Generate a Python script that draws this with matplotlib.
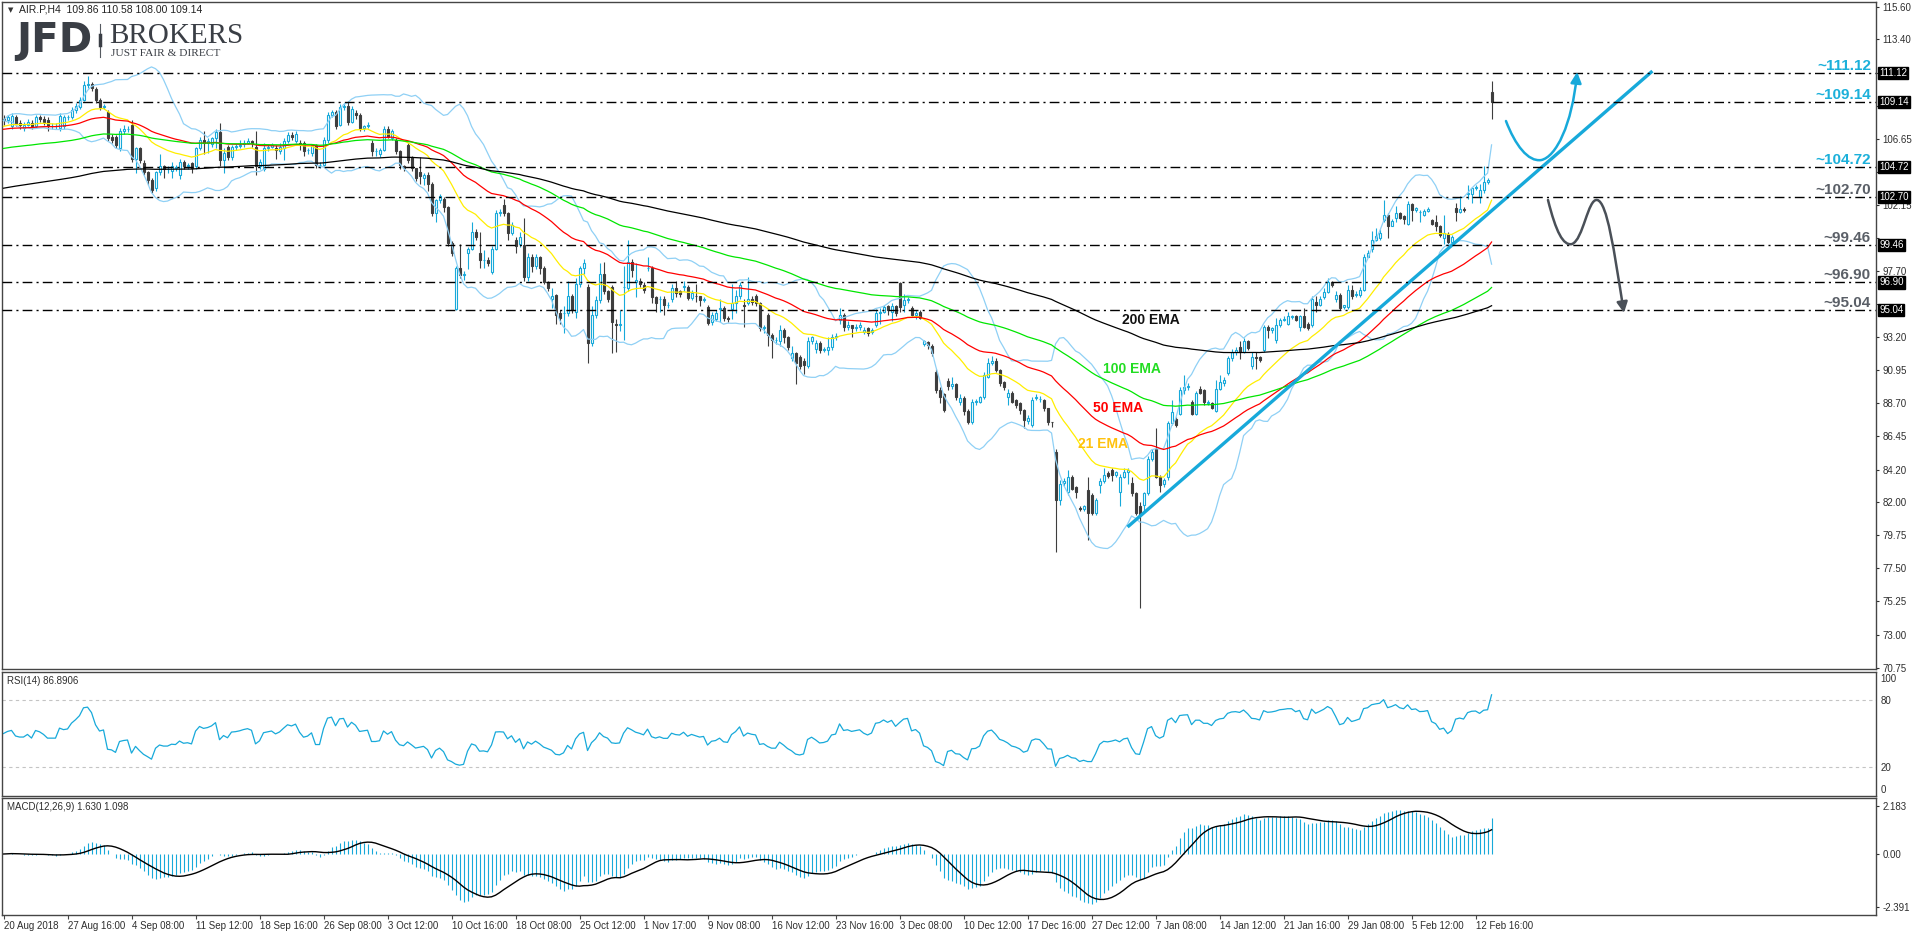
import numpy as np
import pandas as pd
import matplotlib
matplotlib.use("Agg")
import matplotlib.pyplot as plt
import matplotlib.transforms as mtransforms
from matplotlib.path import Path
from matplotlib.patches import FancyArrowPatch
from matplotlib.lines import Line2D

plt.rcParams['font.family'] = ['Liberation Sans', 'DejaVu Sans']

W, H, DPI = 1916, 936, 100

# ---------------- data (AIR.P, H4) ----------------
opens = [
108.0,107.9,107.5,108.1,107.7,107.4,107.6,107.7,107.5,108.1,108.0,107.9,107.5,107.5,107.4,107.5,108.1,108.15,108.6,108.8,
109.3,110.3,110.4,110.0,109.3,108.8,108.5,106.8,106.8,106.0,107.2,107.3,107.6,105.3,106.0,105.0,104.4,103.85,103.3,104.4,
104.8,104.6,104.5,104.7,104.2,105.1,104.8,105.0,104.8,106.0,106.6,106.4,106.3,106.7,107.1,105.2,106.1,105.4,106.1,106.15,
106.3,106.4,106.5,106.1,104.8,104.6,106.0,106.1,106.0,105.8,106.0,106.5,106.9,106.5,106.4,106.4,105.9,105.7,106.2,104.9,
104.9,106.6,108.3,108.5,107.6,108.8,108.9,107.8,108.4,108.3,107.4,107.5,106.4,105.8,105.6,105.9,107.3,106.7,106.6,105.8,
104.8,106.2,105.4,104.65,104.4,104.0,104.2,103.6,101.6,102.5,102.6,102.0,99.55,95.1,97.85,97.4,98.9,99.2,100.35,98.9,
98.4,98.4,97.6,99.2,101.6,102.15,101.6,100.25,99.8,99.5,99.45,97.3,98.65,98.0,98.6,97.85,96.95,95.8,96.05,94.8,
94.8,94.8,95.95,94.9,96.8,97.85,96.6,92.8,94.7,95.7,97.5,96.3,96.6,94.1,94.0,96.6,96.5,98.3,96.9,97.0,
96.75,97.85,97.85,95.9,95.8,95.8,95.4,95.8,96.5,96.3,96.6,96.6,95.85,96.0,95.95,95.7,95.26,94.2,94.45,95.1,
95.15,94.5,95.1,95.5,95.95,95.4,95.5,95.8,96.0,95.5,93.8,94.7,93.35,93.0,92.9,93.7,93.2,91.75,92.1,91.85,
91.6,91.2,92.9,92.4,92.8,92.3,92.3,92.5,93.2,94.35,94.7,93.9,94.0,93.8,93.9,93.55,93.8,93.55,94.0,94.8,
94.9,95.3,94.9,95.3,96.85,95.4,95.7,95.15,94.7,94.9,92.75,92.85,92.6,90.85,89.6,89.3,90.2,89.85,90.0,88.8,
89.05,88.15,87.45,88.8,88.8,89.15,90.5,91.4,91.6,90.95,90.15,89.15,89.4,88.9,88.7,88.25,87.5,87.25,89.05,89.0,
88.9,88.35,87.45,85.4,82.15,83.3,82.7,83.7,83.0,81.6,81.55,82.8,82.45,81.25,83.15,83.4,83.95,84.15,83.8,82.7,
83.7,84.05,83.3,82.6,81.7,81.8,82.6,84.95,85.6,83.7,83.2,83.7,87.35,87.6,88.0,89.6,89.8,88.8,88.0,89.7,
89.6,88.7,88.7,88.15,89.7,90.05,90.75,91.75,92.2,92.55,92.2,92.9,91.2,91.85,91.85,92.3,93.9,93.65,93.0,94.0,
94.35,94.1,94.55,94.6,93.9,94.6,94.1,94.0,95.6,95.4,95.9,96.25,96.95,95.8,96.05,95.25,95.25,96.4,96.05,96.05,
96.4,98.65,99.2,99.8,99.95,101.15,101.5,100.75,101.25,101.6,101.4,100.9,102.25,101.8,101.7,101.5,101.75,101.15,101.0,100.7,
99.9,100.2,99.65,101.95,101.7,101.9,102.9,102.9,103.3,102.7,103.15,103.75,109.86]
highs = [
108.3,108.3,108.4,108.3,107.9,107.8,108.0,107.9,108.3,108.3,108.2,108.1,107.7,107.7,108.4,108.3,108.3,108.8,109.1,109.5,
110.6,110.9,110.5,110.2,109.4,109.0,108.6,107.0,106.9,107.4,107.6,107.5,107.9,106.1,106.1,105.2,104.5,104.0,104.5,105.6,
104.9,104.8,105.1,104.9,105.3,105.2,105.0,105.1,106.1,106.8,107.2,106.7,106.8,107.3,107.7,106.0,106.2,106.2,106.3,106.6,
106.6,106.7,106.6,107.2,105.3,106.4,106.3,106.4,106.2,106.4,106.7,107.1,107.1,107.2,106.6,106.5,106.0,106.3,106.3,105.1,
106.8,108.5,108.6,108.6,109.0,109.1,109.2,108.9,108.6,108.4,107.6,107.8,106.6,106.0,106.0,107.5,107.5,107.3,106.7,105.9,
104.9,106.4,105.5,104.7,105.4,104.3,104.4,103.7,102.6,102.9,102.7,102.1,99.7,98.0,99.5,97.7,99.3,101.0,100.5,100.3,
99.1,98.6,99.4,101.8,101.9,102.6,101.7,101.0,100.0,100.3,101.3,98.9,98.8,98.8,98.7,98.0,97.0,96.5,96.1,95.0,
95.3,97.0,96.1,97.2,98.0,98.5,96.8,95.3,96.0,98.2,98.3,96.4,96.7,94.4,95.0,98.0,99.8,98.5,98.2,97.2,
96.9,98.6,98.0,96.0,96.0,96.0,95.6,96.8,97.0,96.4,97.0,96.7,96.4,96.8,96.0,95.9,95.4,94.9,95.0,95.8,
95.3,94.6,96.8,96.4,96.9,95.8,97.3,96.0,96.1,95.6,94.0,94.8,93.5,93.2,94.0,93.8,93.3,92.6,92.2,92.0,
91.8,93.2,93.3,93.0,92.9,92.5,93.2,93.4,93.5,95.2,94.8,94.3,94.0,94.1,94.2,93.9,93.9,93.8,95.1,95.2,
95.4,95.4,95.5,95.4,96.9,96.1,95.9,95.3,95.0,95.0,93.0,92.9,92.7,91.0,89.8,89.4,90.4,90.5,90.1,89.3,
89.2,88.3,89.0,89.0,89.2,90.8,91.8,91.9,91.8,91.0,90.2,89.7,89.5,89.0,88.8,88.3,87.9,89.1,89.3,89.2,
89.0,88.4,87.45,85.6,83.5,83.6,84.2,83.8,83.1,81.7,81.8,83.7,82.6,82.3,83.6,84.3,84.1,84.3,84.1,83.9,
84.3,84.3,83.7,82.7,82.0,82.7,85.1,85.6,87.0,83.8,83.6,87.5,88.9,87.8,89.8,90.6,90.1,88.9,89.5,89.9,
89.7,88.9,88.8,90.3,90.6,90.5,91.9,92.4,92.5,92.9,93.1,93.0,92.2,92.2,91.9,94.0,94.0,93.9,94.5,94.5,
94.6,94.9,94.7,94.7,94.7,95.2,94.2,96.0,96.0,96.0,96.5,97.2,97.0,96.3,96.2,95.4,96.7,96.7,96.3,96.6,
98.8,99.1,100.4,100.6,100.5,102.5,101.6,101.2,102.1,101.7,101.5,102.4,102.3,102.0,101.8,101.9,102.0,101.2,101.5,100.8,
101.5,100.3,100.1,102.3,102.8,102.0,103.5,103.4,103.5,103.6,104.8,104.0,110.58]
lows = [
107.6,107.7,107.3,107.5,107.3,107.2,107.5,107.3,107.4,107.8,107.6,107.2,107.3,107.3,107.2,107.3,107.9,108.0,108.4,108.7,
109.2,110.1,109.9,109.1,108.6,108.7,106.5,106.4,106.0,105.8,107.0,107.1,105.1,104.3,105.0,104.2,103.5,103.0,103.1,104.2,
104.0,104.3,104.0,104.5,103.9,104.6,104.6,104.3,104.6,105.9,105.6,105.7,106.1,106.0,104.8,104.3,105.2,105.2,105.9,106.0,
106.1,106.3,106.1,104.2,104.6,104.5,105.8,106.0,105.3,105.6,105.2,106.4,106.6,106.4,105.9,105.5,105.6,105.5,104.7,104.7,
104.8,106.4,108.1,107.3,107.5,108.6,107.6,107.7,108.0,107.2,107.2,107.4,105.5,105.5,105.4,105.8,106.7,106.6,105.6,104.6,
104.5,105.0,104.5,103.8,103.6,103.5,103.1,101.4,101.0,102.3,101.7,99.4,98.7,95.0,97.2,97.1,97.8,99.1,99.8,97.9,
97.9,98.0,97.5,99.1,101.4,101.4,99.8,100.1,98.9,99.3,97.0,97.0,97.6,97.8,97.5,96.8,96.3,95.2,94.1,94.1,
93.5,94.6,94.8,94.5,96.6,97.5,91.4,92.6,94.5,95.5,96.1,95.6,92.1,92.2,93.6,93.0,96.3,97.3,95.9,96.6,
96.2,97.7,95.5,94.9,94.9,94.7,95.2,95.6,95.9,95.9,96.3,95.7,95.7,95.6,95.3,95.6,94.0,94.0,94.3,94.2,
94.3,94.2,94.4,94.8,95.8,93.9,95.4,95.4,95.3,93.6,93.5,92.6,91.8,92.7,92.6,92.8,92.3,91.6,90.0,91.0,
90.7,91.1,92.7,92.1,92.1,92.2,92.0,92.3,93.0,94.1,93.6,93.7,93.2,93.6,93.7,93.4,93.3,93.4,93.9,94.1,
94.8,94.7,94.3,94.6,94.9,94.9,95.5,94.6,94.4,94.4,92.6,92.4,91.9,89.4,88.7,88.1,89.6,89.7,88.9,88.6,
87.9,87.3,87.3,88.6,88.7,89.0,90.4,91.3,90.8,89.9,89.6,88.6,88.7,88.4,88.0,87.0,87.3,87.1,88.9,88.8,
88.2,87.2,87.1,78.6,81.8,83.1,82.5,82.8,82.3,81.4,81.4,79.4,81.1,81.1,82.6,83.3,83.6,83.4,83.7,81.7,
83.6,83.2,82.4,81.1,74.8,81.3,82.5,84.8,83.6,82.7,83.0,83.5,87.2,87.1,87.9,89.3,89.6,87.9,87.9,89.3,
88.6,88.6,88.3,88.1,89.6,89.9,90.6,91.6,92.0,91.7,92.1,92.3,91.0,91.0,91.5,92.2,93.1,93.5,92.8,93.9,
94.3,94.0,94.4,94.3,93.6,93.8,93.7,93.9,94.9,95.3,95.8,96.2,96.6,95.6,95.0,95.1,95.1,95.8,95.9,95.9,
96.3,98.6,99.0,99.7,99.8,101.0,99.9,100.7,101.0,101.2,100.9,100.8,101.1,101.7,101.0,101.4,101.7,100.8,100.4,100.0,
99.5,99.4,99.6,101.1,101.6,101.7,102.6,102.3,103.2,102.3,103.0,103.6,108.00]
closes = [
107.9,108.1,108.2,107.7,107.6,107.6,107.8,107.5,108.1,108.0,107.8,107.5,107.5,107.5,108.2,108.1,108.15,108.6,108.9,109.3,
110.3,110.4,110.1,109.3,108.8,108.9,106.7,106.6,106.2,107.2,107.3,107.35,105.3,106.0,105.2,104.4,103.85,103.2,104.4,104.8,
104.6,104.6,104.8,104.75,105.1,104.8,104.85,104.7,106.0,106.6,106.4,106.5,106.7,107.1,105.2,105.7,105.4,106.1,106.15,106.25,
106.4,106.5,106.35,104.8,105.1,106.0,106.1,106.2,105.9,106.1,106.5,106.9,106.8,107.0,106.3,105.8,105.9,106.2,104.9,104.9,
106.6,108.3,108.5,107.5,108.8,108.9,107.8,108.7,108.3,107.4,107.5,107.6,105.8,105.8,105.9,107.3,106.8,107.2,105.8,104.9,
104.7,105.2,104.65,104.0,104.1,104.2,103.6,101.6,102.5,102.8,102.0,99.55,98.9,97.85,97.4,97.5,99.2,100.35,100.0,98.4,
98.45,98.2,99.2,101.6,101.65,101.6,100.25,100.8,99.35,100.0,97.3,98.65,98.0,98.6,97.9,96.95,96.5,96.0,94.7,94.5,
94.8,95.95,95.0,96.8,97.85,98.2,92.8,94.7,95.7,97.5,96.3,95.8,94.2,94.0,94.1,96.6,98.3,97.75,97.1,96.8,
96.4,97.9,95.9,95.5,95.8,95.4,95.4,96.5,96.2,96.1,96.65,95.85,96.2,95.95,95.7,95.8,94.13,94.7,94.8,95.15,
94.5,94.4,95.5,95.95,96.75,95.3,95.8,95.6,95.5,93.8,93.9,93.35,93.0,93.0,93.7,93.2,92.55,92.1,91.4,91.2,
91.3,92.9,93.2,92.8,92.3,92.35,92.5,93.2,93.3,94.7,93.9,94.0,93.8,93.9,94.0,93.65,93.45,93.65,94.8,94.9,
95.25,95.05,95.3,94.8,95.25,95.7,95.8,94.7,94.85,94.5,92.9,92.65,92.1,89.6,89.15,88.25,89.85,90.0,89.15,89.05,
88.15,87.45,88.8,88.85,89.15,90.6,91.4,91.6,90.95,90.05,89.8,89.4,88.8,88.6,88.25,87.55,87.7,88.9,89.1,89.0,
88.35,87.45,87.4,82.15,83.25,83.4,83.7,82.9,82.7,81.55,81.7,81.25,81.25,82.15,83.4,83.85,83.75,83.85,84.0,83.7,
84.05,84.15,82.6,81.25,81.1,82.6,84.95,85.4,83.7,83.15,83.5,87.35,88.1,87.2,89.6,89.8,89.9,88.0,89.4,89.4,
88.8,88.8,88.4,89.7,90.15,90.3,91.75,92.2,92.3,92.2,92.9,92.45,91.85,91.8,91.65,93.9,93.7,93.8,94.0,94.35,
94.45,94.6,94.6,94.35,94.6,93.9,93.8,95.8,95.4,95.8,96.25,96.95,96.75,96.05,95.15,95.35,96.4,95.95,96.15,96.4,
98.65,98.9,99.8,100.05,100.25,101.5,100.7,101.05,101.6,101.3,101.2,102.25,101.8,101.95,101.7,101.75,101.9,100.9,100.7,100.1,
100.25,99.65,100.0,101.7,101.9,101.8,103.0,103.3,103.35,103.15,103.75,103.85,109.14]

date_labels = ["20 Aug 2018", "27 Aug 16:00", "4 Sep 08:00", "11 Sep 12:00", "18 Sep 16:00",
               "26 Sep 08:00", "3 Oct 12:00", "10 Oct 16:00", "18 Oct 08:00", "25 Oct 12:00",
               "1 Nov 17:00", "9 Nov 08:00", "16 Nov 12:00", "23 Nov 16:00", "3 Dec 08:00",
               "10 Dec 12:00", "17 Dec 16:00", "27 Dec 12:00", "7 Jan 08:00", "14 Jan 12:00",
               "21 Jan 16:00", "29 Jan 08:00", "5 Feb 12:00", "12 Feb 16:00"]
date_label_bars = [0, 16, 32, 48, 64, 80, 96, 112, 128, 144, 160, 176, 192, 208, 224,
                   240, 256, 272, 288, 304, 320, 336, 352, 368]

price_ticks = [115.60, 113.40, 111.15, 108.90, 106.65, 104.40, 102.15, 99.90, 97.70, 95.45,
               93.20, 90.95, 88.70, 86.45, 84.20, 82.00, 79.75, 77.50, 75.25, 73.00, 70.75]
rsi_ticks = [100, 80, 20, 0]
macd_ticks = [2.183, 0.00, -2.391]
macd_tick_labels = ["2.183", "0.00", "-2.391"]

levels = [111.12, 109.14, 104.72, 102.70, 99.46, 96.90, 95.04]
level_is_blue = [True, True, True, False, False, False, False]

ema_periods = [21, 50, 100, 200]
ema_seeds = [107.5, 107.3, 106.0, 103.3]          # values read at the first bar
ema_colors = ["#FFEE00", "#FF0000", "#00E600", "#000000"]
ema_labels = [("21 EMA", 268.6, 85.93, "#FFC20E"), ("50 EMA", 272.4, 88.38, "#FF0000"),
              ("100 EMA", 274.9, 91.02, "#22DD22"), ("200 EMA", 279.6, 94.35, "#111111")]

trend_bars = [281.0, 412.2]
trend_prices = [80.3, 111.25]

blue_arrow = [(375.6, 107.86), (377.9, 106.23), (381.1, 105.08), (384.4, 105.21),
              (388.1, 105.42), (392.1, 107.59), (393.4, 111.19)]
gray_arrow = [(386.1, 102.50), (388.1, 100.33), (389.9, 99.37), (392.1, 99.51),
              (394.9, 99.78), (396.1, 102.63), (398.4, 102.50),
              (400.9, 102.36), (402.6, 99.10), (405.1, 94.83)]

header_text = "AIR.P,H4  109.86 110.58 108.00 109.14"
rsi_text = "RSI(14) 86.8906"
macd_text = "MACD(12,26,9) 1.630 1.098"

# ---------------- colours ----------------
CYAN = "#17A9DA"
BEAR = "#3E3E3E"
BB_COL = "#8FD0F5"
FRAME = "#454545"
TXT = "#2E2E2E"
LVL_BLUE = "#1CB0DA"
LVL_GRAY = "#5A5F67"

# ---------------- indicators ----------------
o = np.array(opens); h = np.array(highs); l = np.array(lows); c = np.array(closes)
n = len(c)
x = np.arange(n)
cs = pd.Series(c)


def ema_seeded(vals, period, seed):
    a = 2.0 / (period + 1)
    out = np.empty(len(vals))
    prev = seed
    out[0] = seed
    for i in range(1, len(vals)):
        prev = prev + a * (vals[i] - prev)
        out[i] = prev
    return out

emas = [ema_seeded(c, p, s) for p, s in zip(ema_periods, ema_seeds)]

mid = cs.rolling(20, min_periods=1).mean()
sd = cs.rolling(20, min_periods=1).std(ddof=0)
bb_up = (mid + 2 * sd).values
bb_dn = (mid - 2 * sd).values

# RSI (Wilder)
diff = np.diff(c, prepend=c[0])
ag, al = 0.2, 0.2
rsi = np.empty(n)
for i in range(n):
    g = max(diff[i], 0.0); lo = max(-diff[i], 0.0)
    if i > 0:
        ag = (ag * 13 + g) / 14
        al = (al * 13 + lo) / 14
    rsi[i] = 100 - 100 / (1 + ag / al)

ema12 = cs.ewm(span=12, adjust=False).mean()
ema26 = cs.ewm(span=26, adjust=False).mean()
macd = (ema12 - ema26).values
signal = pd.Series(macd).rolling(9, min_periods=1).mean().values

# ---------------- figure ----------------
fig = plt.figure(figsize=(W / DPI, H / DPI), dpi=DPI)
fig.patch.set_facecolor("white")


def rect(x0, y0, x1, y1):
    return [x0 / W, 1 - y1 / H, (x1 - x0) / W, (y1 - y0) / H]

ax = fig.add_axes(rect(2, 2, 1876, 669))
ax_rsi = fig.add_axes(rect(2, 672, 1876, 796), sharex=ax)
ax_macd = fig.add_axes(rect(2, 798, 1876, 915), sharex=ax)

for a in (ax, ax_rsi, ax_macd):
    for sp in a.spines.values():
        sp.set_color(FRAME)
        sp.set_linewidth(1.0)
    a.set_facecolor("white")
    a.yaxis.tick_right()
    a.tick_params(axis="y", direction="out", length=2.5, width=0.8, pad=2,
                  labelsize=7, colors=TXT)

ax.set_xlim(-0.375, 468.1)
ax.set_ylim(70.66, 115.94)

# candles
bull = c >= o
ax.vlines(x[bull], l[bull], h[bull], color=CYAN, lw=0.8, zorder=2)
ax.vlines(x[~bull], l[~bull], h[~bull], color=BEAR, lw=0.8, zorder=2)
ax.bar(x[bull], (c - o)[bull], bottom=o[bull], width=0.5, facecolor="white",
       edgecolor=CYAN, linewidth=0.8, zorder=3)
ax.bar(x[~bull], (c - o)[~bull], bottom=o[~bull], width=0.5, facecolor=BEAR,
       edgecolor=BEAR, linewidth=0.8, zorder=3)

# bands + EMAs
ax.plot(x, bb_up, color=BB_COL, lw=0.9, zorder=4)
ax.plot(x, bb_dn, color=BB_COL, lw=0.9, zorder=4)
for e, col in zip(emas, ema_colors):
    ax.plot(x, e, color=col, lw=0.9, zorder=4)

for txt, bx, py, col in ema_labels:
    ax.text(bx, py, txt, color=col, fontsize=10, fontweight="bold",
            ha="left", va="center", zorder=6)

# trend line
ax.plot(trend_bars, trend_prices, color=CYAN, lw=2.4, solid_capstyle="butt", zorder=5)

# level lines
blend = mtransforms.blended_transform_factory(ax.transAxes, ax.transData)
for lv, isb in zip(levels, level_is_blue):
    ax.axhline(lv, color="black", lw=1.0, ls=(0, (7, 3, 1.5, 3)), zorder=5)
    ax.annotate(f"~{lv:.2f}", xy=(1 - 5 / 1874, lv), xycoords=blend,
                xytext=(0, 2.2), textcoords="offset points", ha="right",
                va="baseline", fontsize=11, fontweight="bold",
                color=LVL_BLUE if isb else LVL_GRAY, zorder=6)
    ax.text(1 + 3 / 1874, lv, f"{lv:.2f}", transform=blend, ha="left", va="center",
            fontsize=7, color="white", zorder=10, clip_on=False,
            bbox=dict(boxstyle="square,pad=0.12", fc="black", ec="black"))

# arrows
def arrow_path(pts):
    codes = [Path.MOVETO] + [Path.CURVE4] * (len(pts) - 1)
    return Path(pts, codes)

ax.add_patch(FancyArrowPatch(path=arrow_path(blue_arrow), arrowstyle="-|>",
                             mutation_scale=16, lw=1.8, color=CYAN, zorder=6))
ax.add_patch(FancyArrowPatch(path=arrow_path(gray_arrow), arrowstyle="-|>",
                             mutation_scale=16, lw=1.8, color="#4A5058", zorder=6))

# price scale: labels hidden behind the black level boxes are left blank
ax.set_yticks(price_ticks)
ax.set_yticklabels(["" if min(abs(v - lv) for lv in levels) < 0.5 else f"{v:.2f}"
                    for v in price_ticks])
ax.tick_params(axis="x", length=0, labelbottom=False)

# RSI
ax_rsi.set_ylim(-6.3, 105.4)
for lvl in (80, 20):
    ax_rsi.axhline(lvl, color="#C4C4C4", lw=0.8, ls=(0, (3, 3)))
ax_rsi.plot(x, rsi, color=CYAN, lw=0.9)
ax_rsi.set_yticks(rsi_ticks)
ax_rsi.set_yticklabels([str(v) for v in rsi_ticks])
ax_rsi.tick_params(axis="y", length=0, pad=3)
ax_rsi.tick_params(axis="x", length=0, labelbottom=False)
ax_rsi.text(5 / 1874, 1 - 9 / 124, rsi_text, transform=ax_rsi.transAxes,
            fontsize=7, color=TXT, va="center", ha="left")

# MACD
ax_macd.set_ylim(-2.76, 2.534)
ax_macd.vlines(x, 0, macd, color=CYAN, lw=0.8)
ax_macd.plot(x, signal, color="black", lw=1.0)
ax_macd.set_yticks(macd_ticks)
ax_macd.set_yticklabels(macd_tick_labels)
ax_macd.text(5 / 1874, 1 - 9 / 117, macd_text, transform=ax_macd.transAxes,
             fontsize=7, color=TXT, va="center", ha="left")
ax_macd.set_xticks(date_label_bars)
ax_macd.set_xticklabels(date_labels, ha="left", fontsize=7, color=TXT)
ax_macd.tick_params(axis="x", direction="out", length=3, width=0.8, pad=1.5,
                    colors=FRAME, labelcolor=TXT)

# header & logo
fig.text(8 / W, 1 - 10 / H, "\u25BC", fontsize=5, color="#333333", va="center",
         family=["DejaVu Sans"])
fig.text(19 / W, 1 - 10 / H, header_text, fontsize=7.5, color="#222222", va="center")
fig.text(16 / W, 1 - 41 / H, "JFD", fontsize=29, fontweight="bold", color="#3A3E45",
         va="center", family=["DejaVu Sans"])
fig.add_artist(Line2D([100 / W, 100 / W], [1 - 24 / H, 1 - 57 / H], color="#555a60", lw=0.8))
fig.add_artist(Line2D([100 / W, 100 / W], [1 - 35 / H, 1 - 45 / H], color="#3A3E45", lw=2.5))
fig.text(109 / W, 1 - 36 / H, "BROKERS", fontsize=21, color="#3A3E45", va="center",
         family=["Liberation Serif"])
fig.text(111 / W, 1 - 53.5 / H, "JUST FAIR & DIRECT", fontsize=8.2, color="#3A3E45",
         va="center", family=["Liberation Serif"])

fig.savefig("out.png", dpi=DPI, facecolor="white")
